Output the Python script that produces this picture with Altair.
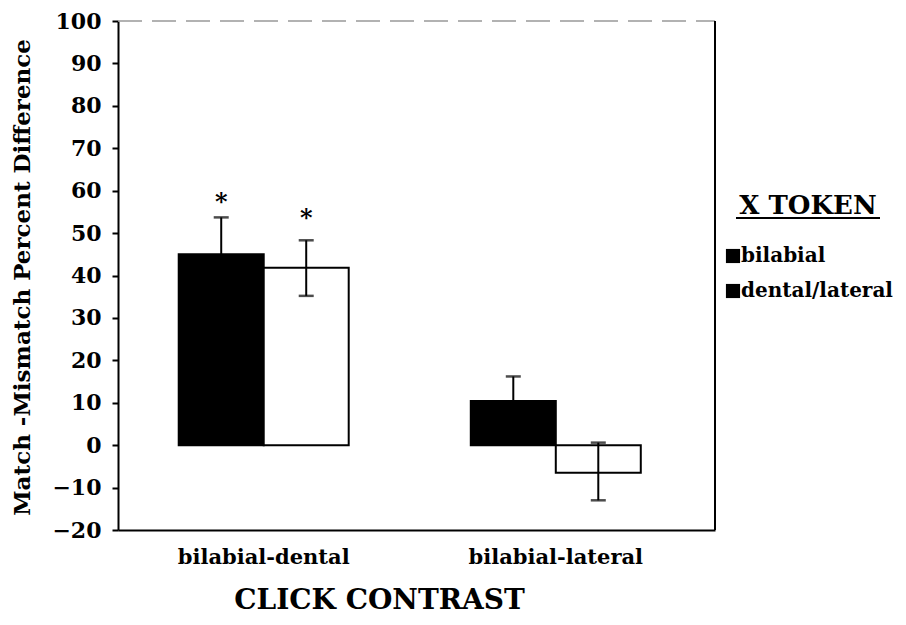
import altair as alt
import pandas as pd

# ---- data ----
contrasts = ["bilabial-dental", "bilabial-dental", "bilabial-lateral", "bilabial-lateral"]
tokens = ["bilabial", "dental/lateral", "bilabial", "dental/lateral"]
means = [45.0, 41.8, 10.4, -6.5]
err_lo = [36.3, 35.2, 4.6, -13.0]
err_hi = [53.7, 48.3, 16.2, 0.6]
star_text = ["*", "*", "", ""]
star_y = [58.6, 54.8, 0.0, 0.0]

contrast_order = ["bilabial-dental", "bilabial-lateral"]
token_order = ["bilabial", "dental/lateral"]
y_ticks = [-20, -10, 0, 10, 20, 30, 40, 50, 60, 70, 80, 90, 100]

df = pd.DataFrame({
    "contrast": contrasts, "token": tokens, "mean": means,
    "lo": err_lo, "hi": err_hi, "star": star_text, "star_y": star_y,
})
legend_df = pd.DataFrame({"token": token_order})

FONT = "DejaVu Serif"
W, H = 597, 509

x_enc = alt.X("contrast:N", sort=contrast_order,
              scale=alt.Scale(paddingInner=0.418, paddingOuter=0.231, align=0.45),
              axis=alt.Axis(title="CLICK CONTRAST", labelAngle=0, ticks=False,
                            labelPadding=16, labelFontSize=21, labelFont=FONT,
                            labelFontWeight="bold", labelColor="black", labelLimit=0,
                            titleFontSize=28, titleFont=FONT, titleFontWeight="bold",
                            titleColor="black", titleX=261, titleY=78,
                            titleBaseline="alphabetic"))
xo_enc = alt.XOffset("token:N", sort=token_order,
                     scale=alt.Scale(paddingInner=0, paddingOuter=0))
y_scale = alt.Scale(domain=[-20, 100], nice=False, zero=False)

base = alt.Chart(df).encode(x=x_enc, xOffset=xo_enc)

bars = base.mark_bar(stroke="black", strokeWidth=2).encode(
    y=alt.Y("mean:Q", scale=y_scale,
            axis=alt.Axis(values=y_ticks, title="Match -Mismatch Percent Difference",
                          grid=False, tickSize=6, labelPadding=11,
                          labelFontSize=22, labelFont=FONT, labelFontWeight="bold",
                          labelColor="black",
                          titleFontSize=23, titleFont=FONT, titleFontWeight="bold",
                          titleColor="black", titleX=-96, titleY=256,
                          titleBaseline="middle", titleAngle=-90)),
    fill=alt.Fill("token:N", sort=token_order,
                  scale=alt.Scale(domain=token_order, range=["black", "white"]),
                  legend=None),
)
err = base.mark_rule(color="black", strokeWidth=2).encode(
    y=alt.Y("lo:Q", scale=y_scale), y2="hi:Q")
cap_hi = base.mark_tick(color="black", size=15, thickness=2.5).encode(
    y=alt.Y("hi:Q", scale=y_scale))
cap_lo = base.mark_tick(color="black", size=15, thickness=2.5).encode(
    y=alt.Y("lo:Q", scale=y_scale))
stars = base.mark_text(font=FONT, fontSize=24, fontWeight="bold", color="black",
                       baseline="middle", dy=6).encode(
    y=alt.Y("star_y:Q", scale=y_scale), text="star:N"
).transform_filter("datum.star != ''")

one = pd.DataFrame({"k": [0]})
right_border = alt.Chart(one).mark_rule(color="black", strokeWidth=2).encode(
    x=alt.value(W), y=alt.value(0), y2=alt.value(H))
top_border = alt.Chart(one).mark_rule(color="#999999", strokeWidth=1.5,
                                      strokeDash=[24, 10]).encode(
    x=alt.value(0), x2=alt.value(W), y=alt.value(0))

main = alt.layer(bars, err, cap_hi, cap_lo, stars, top_border, right_border)

# ---- legend (drawn by hand so the title can be underlined) ----
leg_y = alt.Y("token:N", sort=token_order, axis=None,
              scale=alt.Scale(range=[235, 270], padding=0))
leg_sq = alt.Chart(legend_df).mark_square(size=200, color="black", opacity=1).encode(
    x=alt.value(615), y=leg_y)
leg_txt = alt.Chart(legend_df).mark_text(font=FONT, fontSize=20, fontWeight="bold",
                                         color="black", align="left",
                                         baseline="middle").encode(
    x=alt.value(623), y=leg_y, text="token:N")
leg_title = alt.Chart(one).mark_text(text="X TOKEN", font=FONT, fontSize=26,
                                     fontWeight="bold", color="black",
                                     align="center", baseline="alphabetic").encode(
    x=alt.value(690), y=alt.value(193))
leg_line = alt.Chart(one).mark_rule(color="black", strokeWidth=2).encode(
    x=alt.value(618), x2=alt.value(762), y=alt.value(197))
legend = alt.layer(leg_sq, leg_txt, leg_title, leg_line)

chart = alt.layer(main, legend).resolve_scale(y="independent").properties(
    width=W, height=H,
    autosize=alt.AutoSizeParams(type="none"),
    padding={"left": 110, "top": 13, "right": 183, "bottom": 85},
).configure_view(stroke=None).configure_axis(
    domainColor="black", domainWidth=2, tickColor="black", tickWidth=2)

chart.save("out.html", embed_options={"renderer": "svg", "actions": False})
